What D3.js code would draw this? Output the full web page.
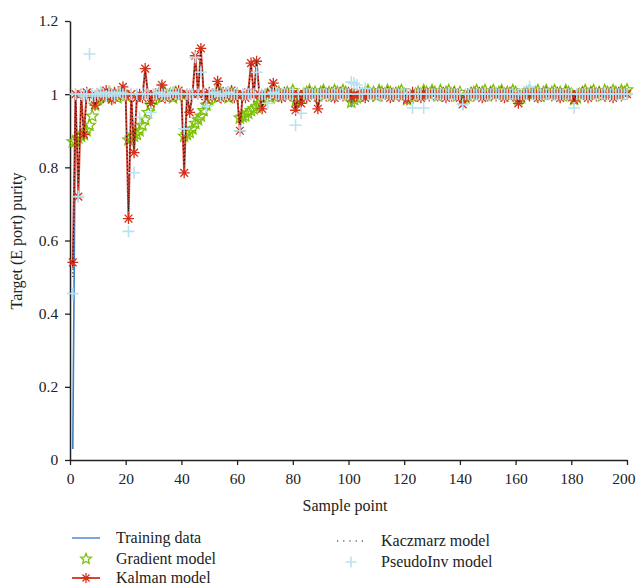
<!DOCTYPE html>
<html><head><meta charset="utf-8">
<script src="https://cdn.jsdelivr.net/npm/d3@7"></script>
<style>
body{margin:0;background:#fff;}
svg{display:block;font-family:"Liberation Serif","DejaVu Serif",serif;}
</style></head>
<body><svg id="c" width="636" height="587"></svg>
<script>
const xTicks=[0,20,40,60,80,100,120,140,160,180,200];
const yTicks=[0,0.2,0.4,0.6,0.8,1,1.2];
const seriesNames=["Training data","Gradient model","Kalman model","Kaczmarz model","PseudoInv model"];

const training=[
0.03,1,1,1,1,1,1,1,1,1,1,1,1,1,1,1,1,1,1,1,
1,1,1,1,1,1,1,1,1,1,1,1,1,1,1,1,1,1,1,1,
0.995,1,1,1,1,1,1,1,1,1,1,1,1,1,1,1,1,1,1,1,
1,1,1,1,1,1,1,1,1,1,1,1,1,1,1,1,1,1,1,1,
1,1,1,1,1,1,1,1,1,1,1,1,1,1,1,1,1,1,1,1,
0.965,1,1,1,1,1,1,1,1,1,1,1,1,1,1,1,1,1,1,1,
1,1,1,1,1,1,1,1,1,1,1,1,1,1,1,1,1,1,1,1,
1,1,1,1,1,1,1,1,1,1,1,1,1,1,1,1,1,1,1,1,
1,1,1,1,1,1,1,1,1,1,1,1,1,1,1,1,1,1,1,1,
1,1,1,1,1,1,1,1,1,1,1,1,1,1,1,1,1,1,1,1];

const gradient=[
0.87,0.87,0.88,0.885,0.89,0.90,0.915,0.94,0.97,0.985,0.995,1.0,0.99,1.005,0.995,1.0,0.99,1.0,1.005,0.995,
0.875,0.88,0.885,0.89,0.90,0.915,0.93,0.95,0.97,0.985,0.995,1.0,0.99,1.005,0.995,1.0,0.99,1.005,0.995,1.0,
0.885,0.89,0.895,0.905,0.92,0.93,0.94,0.955,0.97,0.985,0.995,1.0,0.99,1.005,0.995,1.0,0.99,1.005,0.995,1.0,
0.935,0.938,0.94,0.948,0.955,0.96,0.965,0.975,0.985,0.995,1.0,0.99,1.005,0.995,1.005,0.995,1.0,1.005,1.0,1.01,
0.98,0.985,0.99,1.0,1.005,1.01,1.0,1.005,0.995,1.005,1.01,1.0,1.005,0.995,1.01,1.005,1.0,1.01,1.005,1.0,
0.978,0.985,0.99,0.995,1.0,1.005,1.01,1.0,1.005,0.995,1.01,1.005,1.0,1.01,1.005,1.0,0.995,1.005,1.01,1.0,
0.985,0.99,0.995,1.0,1.005,1.0,1.01,1.005,1.0,1.01,1.005,0.995,1.01,1.0,1.005,1.01,1.0,1.005,0.995,1.005,
0.985,0.99,0.995,1.0,1.005,1.01,1.0,1.005,1.01,0.995,1.005,1.01,1.0,1.005,1.01,1.0,1.005,0.995,1.01,1.005,
0.985,0.99,1.0,1.005,1.01,1.0,1.005,1.01,0.995,1.005,1.01,1.0,1.005,1.01,1.0,1.005,0.995,1.01,1.005,1.0,
0.985,0.99,1.0,1.005,1.01,1.0,1.005,1.01,1.0,1.005,0.995,1.01,1.005,1.0,1.01,1.005,1.0,1.01,1.005,1.012];

const kalman=[
0.54,1.0,0.72,1.0,0.89,1.005,0.995,1.0,0.97,0.995,1.005,0.99,1.01,1.0,0.985,1.005,0.995,1.0,1.02,0.995,
0.66,1.0,0.84,0.99,1.0,0.99,1.07,1.0,0.975,1.0,0.995,1.005,1.025,0.99,1.0,0.995,1.005,0.995,1.01,1.0,
0.785,1.0,0.95,1.0,1.105,1.0,1.125,1.0,0.985,1.005,0.995,1.0,1.035,0.99,1.005,0.995,1.0,1.01,0.99,1.0,
0.90,1.0,0.99,1.005,1.085,0.995,1.09,1.0,0.96,1.0,0.995,1.005,1.03,0.995,1.0,0.99,1.005,1.0,0.995,1.0,
0.956,1.0,0.975,1.0,0.99,1.005,1.0,0.995,0.96,1.0,1.005,0.995,1.0,1.005,0.99,1.0,1.005,0.995,1.0,1.005,
0.99,1.0,0.995,1.005,1.0,0.99,1.005,1.0,0.995,1.0,1.005,0.995,1.0,1.005,0.99,1.0,1.005,0.995,1.0,0.995,
0.985,1.0,1.005,0.995,1.0,0.99,1.005,1.0,0.995,1.005,1.0,0.995,1.0,1.005,0.99,1.0,0.995,1.005,1.0,0.99,
0.972,0.99,1.0,1.005,0.995,1.0,1.005,0.99,1.0,0.995,1.005,1.0,0.995,1.0,1.005,0.99,1.0,1.005,0.995,1.0,
0.975,0.99,1.0,1.005,0.995,1.0,1.005,0.99,1.0,0.995,1.005,1.0,0.995,1.0,1.005,0.99,1.0,1.005,0.995,1.0,
0.984,1.0,0.995,1.005,1.0,0.99,1.005,1.0,0.995,1.005,1.0,0.995,1.0,1.005,0.99,1.0,1.005,0.995,1.0,1.0];

const kaczmarz=[
0.50,1.0,0.75,1.0,0.88,1.0,0.995,1.0,0.975,1.0,1.0,0.995,1.005,1.0,0.99,1.0,1.0,1.0,1.015,1.0,
0.68,1.0,0.85,1.0,1.0,0.995,1.06,1.0,0.98,1.0,1.0,1.0,1.02,0.995,1.0,1.0,1.0,1.0,1.005,1.0,
0.80,1.0,0.955,1.0,1.10,1.0,1.12,1.0,0.99,1.0,1.0,1.0,1.03,0.995,1.0,1.0,1.0,1.005,0.995,1.0,
0.91,1.0,0.995,1.0,1.08,1.0,1.09,1.0,0.965,1.0,1.0,1.0,1.025,1.0,1.0,0.995,1.0,1.0,1.0,1.0,
0.96,1.0,0.98,1.0,1.0,1.0,1.0,1.0,0.965,1.0,1.0,1.0,1.0,1.0,1.0,1.0,1.0,1.0,1.0,1.0,
0.995,1.0,1.0,1.0,1.0,1.0,1.0,1.0,1.0,1.0,1.0,1.0,1.0,1.0,1.0,1.0,1.0,1.0,1.0,1.0,
0.99,1.0,1.0,1.0,1.0,1.0,1.0,1.0,1.0,1.0,1.0,1.0,1.0,1.0,1.0,1.0,1.0,1.0,1.0,1.0,
0.975,1.0,1.0,1.0,1.0,1.0,1.0,1.0,1.0,1.0,1.0,1.0,1.0,1.0,1.0,1.0,1.0,1.0,1.0,1.0,
0.978,1.0,1.0,1.0,1.0,1.0,1.0,1.0,1.0,1.0,1.0,1.0,1.0,1.0,1.0,1.0,1.0,1.0,1.0,1.0,
0.985,1.0,1.0,1.0,1.0,1.0,1.0,1.0,1.0,1.0,1.0,1.0,1.0,1.0,1.0,1.0,1.0,1.0,1.0,1.0];

const pseudoInv=[
0.455,1.0,0.72,1.0,0.995,1.0,1.11,1.0,0.995,1.0,1.005,1.0,0.995,1.005,1.0,0.995,1.0,1.005,1.0,1.0,
0.625,1.0,0.785,1.0,0.937,1.0,1.0,1.0,0.95,1.0,1.0,1.005,1.0,0.995,1.0,1.0,1.005,1.0,1.0,1.0,
0.905,1.0,1.0,1.0,1.10,1.0,1.06,1.0,0.967,1.0,1.0,1.005,1.0,0.995,1.0,1.0,1.005,1.0,1.0,1.0,
0.90,1.0,1.0,1.0,1.0,1.0,1.06,1.0,1.0,1.0,0.975,1.0,1.005,1.0,1.0,1.0,1.0,1.0,1.0,1.0,
0.915,1.0,0.948,1.0,1.0,1.0,1.0,1.0,1.0,1.0,1.0,1.0,1.0,1.0,1.0,1.0,1.0,1.0,1.0,1.0,
1.033,1.03,1.025,1.0,1.0,1.016,1.0,1.0,1.0,1.0,1.0,1.0,1.0,1.0,1.0,1.0,1.0,1.0,1.0,1.0,
1.0,1.0,0.962,1.0,1.0,1.0,0.962,1.0,1.0,1.0,1.0,1.0,1.0,1.0,1.0,1.0,1.0,1.0,1.0,1.0,
0.972,1.0,1.0,1.0,1.0,1.0,1.0,1.0,1.0,1.0,1.0,1.0,1.0,1.0,1.0,1.0,1.0,1.0,1.0,1.0,
1.0,1.0,1.0,1.0,1.02,1.0,1.0,1.0,1.0,1.0,1.0,1.0,1.0,1.0,1.0,1.0,1.0,1.0,1.0,1.0,
0.962,1.0,1.0,1.0,1.0,1.0,1.0,1.0,1.0,1.0,1.0,1.0,1.0,1.0,1.0,1.0,1.0,1.0,1.0,1.0];

const colors={train:"#3f7fc8",grad:"#7cc10a",kal:"#d5301c",kacz:"#111",pinv:"#b9e2f0"};

const svg=d3.select("#c");
const x=d3.scaleLinear().domain([0,200]).range([70,627]);
const y=d3.scaleLinear().domain([0,1.2]).range([460,21]);

const pts=arr=>arr.map((v,i)=>[i+1,v]);
const line=d3.line().x(d=>x(d[0])).y(d=>y(d[1]));

// axes
const ax=svg.append("g").attr("transform","translate(0,460)")
 .call(d3.axisBottom(x).tickValues(xTicks).tickSize(5).tickSizeOuter(0).tickFormat(d3.format("d")));
const ay=svg.append("g").attr("transform","translate(70,0)")
 .call(d3.axisLeft(y).tickValues(yTicks).tickSize(5).tickSizeOuter(0).tickFormat(d=>d3.format("")(d)));
[ax,ay].forEach(g=>{
 g.select(".domain").attr("stroke","#222").attr("stroke-width",1.5);
 g.selectAll(".tick line").attr("stroke","#222").attr("stroke-width",1.3);
 g.selectAll("text").attr("font-family","Liberation Serif, serif").attr("font-size",15.5).attr("fill","#222");
});
ax.selectAll("text").attr("dy","1.0em");
ax.selectAll(".tick").filter(d=>d===200).select("text").attr("text-anchor","end").attr("x",8);
ay.selectAll("text").attr("dx","-0.25em");

svg.append("text").attr("x",345).attr("y",511).attr("text-anchor","middle")
 .attr("font-size",16).attr("fill","#222").text("Sample point");
svg.append("text").attr("transform","translate(22,241) rotate(-90)").attr("text-anchor","middle")
 .attr("font-size",16).attr("fill","#222").text("Target (E port) purity");

// symbols
const starPath=r=>{const p=[];for(let k=0;k<10;k++){const a=-Math.PI/2+k*Math.PI/5;const rr=k%2?r*0.45:r;p.push([rr*Math.cos(a),rr*Math.sin(a)]);}return "M"+p.map(q=>q[0].toFixed(2)+","+q[1].toFixed(2)).join("L")+"Z";};
const astPath=r=>{const d=r*0.7071;return `M${-r},0L${r},0M0,${-r}L0,${r}M${-d},${-d}L${d},${d}M${-d},${d}L${d},${-d}`;};
const plusPath=r=>`M${-r},0L${r},0M0,${-r}L0,${r}`;

const plot=svg.append("g");
plot.append("path").datum(pts(training)).attr("d",line).attr("fill","none")
 .attr("stroke",colors.train).attr("stroke-width",1.6);
plot.append("g").selectAll("path").data(pts(gradient)).join("path")
 .attr("transform",d=>`translate(${x(d[0])},${y(d[1])})`).attr("d",starPath(6))
 .attr("fill","none").attr("stroke",colors.grad).attr("stroke-width",1.3);
plot.append("path").datum(pts(kalman)).attr("d",line).attr("fill","none")
 .attr("stroke",colors.kal).attr("stroke-width",2).attr("stroke-opacity",0.9);
plot.append("g").selectAll("path").data(pts(kalman)).join("path")
 .attr("transform",d=>`translate(${x(d[0])},${y(d[1])})`).attr("d",astPath(5.5))
 .attr("fill","none").attr("stroke",colors.kal).attr("stroke-width",1.3);
plot.append("path").datum(pts(kaczmarz)).attr("d",line).attr("fill","none")
 .attr("stroke",colors.kacz).attr("stroke-width",1.1).attr("stroke-dasharray","1.2,2.5");
plot.append("g").selectAll("path").data(pts(pseudoInv)).join("path")
 .attr("transform",d=>`translate(${x(d[0])},${y(d[1])})`).attr("d",plusPath(6))
 .attr("fill","none").attr("stroke",colors.pinv).attr("stroke-width",1.6);

// legend
const lg=svg.append("g").attr("font-size",16).attr("fill","#222");
const L=[
 {n:seriesNames[0],x0:72,yy:538,type:"line"},
 {n:seriesNames[1],x0:72,yy:559,type:"star"},
 {n:seriesNames[2],x0:72,yy:578,type:"kal"},
 {n:seriesNames[3],x0:337,yy:541,type:"dot"},
 {n:seriesNames[4],x0:337,yy:562,type:"plus"}];
L.forEach(e=>{
 const cx=e.x0+14;
 if(e.type==="line") lg.append("line").attr("x1",e.x0).attr("x2",e.x0+28).attr("y1",e.yy).attr("y2",e.yy).attr("stroke","#5b8fd6").attr("stroke-width",1.6);
 if(e.type==="star") lg.append("path").attr("transform",`translate(${cx},${e.yy})`).attr("d",starPath(5.5)).attr("fill","none").attr("stroke",colors.grad).attr("stroke-width",1.3);
 if(e.type==="kal"){lg.append("line").attr("x1",e.x0).attr("x2",e.x0+28).attr("y1",e.yy).attr("y2",e.yy).attr("stroke",colors.kal).attr("stroke-width",1.8);
   lg.append("path").attr("transform",`translate(${cx},${e.yy})`).attr("d",astPath(5)).attr("fill","none").attr("stroke",colors.kal).attr("stroke-width",1.3);}
 if(e.type==="dot") lg.append("line").attr("x1",e.x0).attr("x2",e.x0+28).attr("y1",e.yy).attr("y2",e.yy).attr("stroke","#111").attr("stroke-width",1.1).attr("stroke-dasharray","1.2,5");
 if(e.type==="plus") lg.append("path").attr("transform",`translate(${cx},${e.yy})`).attr("d",plusPath(5.5)).attr("fill","none").attr("stroke",colors.pinv).attr("stroke-width",1.6);
 lg.append("text").attr("x",e.x0+44).attr("y",e.yy+5).text(e.n);
});
</script></body></html>
